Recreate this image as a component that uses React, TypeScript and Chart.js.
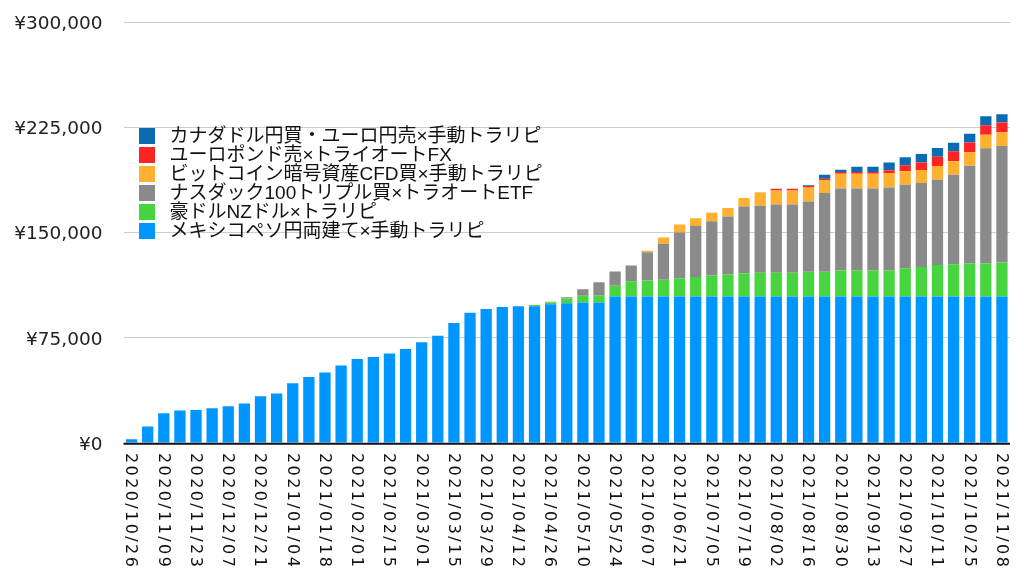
import React, { useEffect, useRef } from "react";
import { Chart, registerables } from "chart.js";

Chart.register(...registerables);

const categories: string[] = [
  "2020/10/26", "2020/11/02", "2020/11/09", "2020/11/16", "2020/11/23", "2020/11/30",
  "2020/12/07", "2020/12/14", "2020/12/21", "2020/12/28",
  "2021/01/04", "2021/01/11", "2021/01/18", "2021/01/25",
  "2021/02/01", "2021/02/08", "2021/02/15", "2021/02/22",
  "2021/03/01", "2021/03/08", "2021/03/15", "2021/03/22", "2021/03/29",
  "2021/04/05", "2021/04/12", "2021/04/19", "2021/04/26",
  "2021/05/03", "2021/05/10", "2021/05/17", "2021/05/24", "2021/05/31",
  "2021/06/07", "2021/06/14", "2021/06/21", "2021/06/28",
  "2021/07/05", "2021/07/12", "2021/07/19", "2021/07/26",
  "2021/08/02", "2021/08/09", "2021/08/16", "2021/08/23", "2021/08/30",
  "2021/09/06", "2021/09/13", "2021/09/20", "2021/09/27",
  "2021/10/04", "2021/10/11", "2021/10/18", "2021/10/25",
  "2021/11/01", "2021/11/08",
];

// メキシコペソ円両建て×手動トラリピ
const mexico: number[] = [
  2700, 11700, 21200, 23100, 23600, 24800, 26200, 28100, 33300, 35200,
  42600, 47100, 50200, 55200, 59800, 61200, 63800, 66900, 71800, 76400,
  85500, 92900, 95500, 96900, 97400, 97400, 98800, 99500, 100200, 100200,
  104400, 104400, 104400, 104400, 104400, 104400, 104400, 104400, 104400, 104400,
  104400, 104400, 104400, 104400, 104400, 104400, 104400, 104400, 104400, 104400,
  104400, 104400, 104400, 104400, 104400,
];

// 豪ドルNZドル×トラリピ
const audnzd: number[] = [
  0, 0, 0, 0, 0, 0, 0, 0, 0, 0,
  0, 0, 0, 0, 0, 0, 0, 0, 0, 0,
  0, 0, 0, 0, 0, 950, 1400, 3400, 4800, 5000,
  7600, 10900, 11400, 12000, 13000, 13900, 15000, 15600, 16500, 17000,
  17000, 17000, 17700, 17700, 18500, 18500, 18500, 18500, 20100, 21100,
  22500, 23000, 23500, 23500, 24200,
];

// ナスダック100トリプル買×トラオートETF
const nasdaq: number[] = [
  0, 0, 0, 0, 0, 0, 0, 0, 0, 0,
  0, 0, 0, 0, 0, 0, 0, 0, 0, 0,
  0, 0, 0, 0, 0, 0, 500, 900, 4500, 9300,
  10200, 11200, 20100, 25500, 32600, 36300, 38700, 41400, 47700, 47600,
  48600, 48600, 50000, 56000, 58500, 58500, 58500, 59200, 59500, 59700,
  60700, 63700, 69700, 82200, 83100,
];

// ビットコイン暗号資産CFD買×手動トラリピ
const bitcoin: number[] = [
  0, 0, 0, 0, 0, 0, 0, 0, 0, 0,
  0, 0, 0, 0, 0, 0, 0, 0, 0, 0,
  0, 0, 0, 0, 0, 0, 0, 0, 0, 0,
  0, 0, 1100, 4600, 5700, 5500, 6000, 6000, 5900, 9600,
  10000, 10000, 10000, 9300, 10500, 10500, 10500, 10300, 9600, 9300,
  9700, 9600, 9500, 9600, 9800,
];

// ユーロポンド売×トライオートFX
const eurgbp: number[] = [
  0, 0, 0, 0, 0, 0, 0, 0, 0, 0,
  0, 0, 0, 0, 0, 0, 0, 0, 0, 0,
  0, 0, 0, 0, 0, 0, 0, 0, 0, 0,
  0, 0, 0, 0, 0, 0, 0, 0, 0, 0,
  1200, 1200, 1000, 900, 1200, 1200, 1200, 1900, 4300, 5400,
  6700, 7200, 7000, 6800, 6800,
];

// カナダドル円買・ユーロ円売×手動トラリピ
const cadeur: number[] = [
  0, 0, 0, 0, 0, 0, 0, 0, 0, 0,
  0, 0, 0, 0, 0, 0, 0, 0, 0, 0,
  0, 0, 0, 0, 0, 0, 0, 0, 0, 0,
  0, 0, 0, 0, 0, 0, 0, 0, 0, 0,
  0, 0, 500, 2900, 1700, 3800, 3800, 5500, 5700, 6100,
  6200, 6100, 6300, 6300, 5900,
];

const seriesLabels: string[] = [
  "メキシコペソ円両建て×手動トラリピ",
  "豪ドルNZドル×トラリピ",
  "ナスダック100トリプル買×トラオートETF",
  "ビットコイン暗号資産CFD買×手動トラリピ",
  "ユーロポンド売×トライオートFX",
  "カナダドル円買・ユーロ円売×手動トラリピ",
];
const seriesColors: string[] = ["#0096ff", "#48d43f", "#8a8a8a", "#ffb030", "#ff2424", "#0a6bb2"];

const yTicks: number[] = [0, 75000, 150000, 225000, 300000];

const xLabelPlugin = {
  id: "xLabels",
  afterDraw(chart: any) {
    const ctx = chart.ctx;
    const xs = chart.scales.x;
    const area = chart.chartArea;
    ctx.save();
    ctx.font = '16px "DejaVu Sans"';
    try { (ctx as any).letterSpacing = "2.4px"; } catch (e) {}
    ctx.fillStyle = "#111111";
    ctx.textAlign = "left";
    ctx.textBaseline = "middle";
    categories.forEach((lab, i) => {
      if (i % 2 !== 0) return;
      const x = xs.getPixelForValue(i);
      ctx.save();
      ctx.translate(x - 1, area.bottom + 10);
      ctx.rotate(Math.PI / 2);
      ctx.fillText(lab, 0, 0);
      ctx.restore();
    });
    ctx.restore();
  },
};

const zeroLinePlugin = {
  id: "zeroLine",
  afterDatasetsDraw(chart: any) {
    const ctx = chart.ctx;
    const area = chart.chartArea;
    const y = chart.scales.y.getPixelForValue(0);
    ctx.save();
    ctx.strokeStyle = "#111111";
    ctx.lineWidth = 2;
    ctx.beginPath();
    ctx.moveTo(area.left, y + 0.8);
    ctx.lineTo(area.right, y + 0.8);
    ctx.stroke();
    ctx.restore();
  },
};

const legendPlugin = {
  id: "customLegend",
  afterDraw(chart: any) {
    const ctx = chart.ctx;
    const area = chart.chartArea;
    const ds = chart.data.datasets;
    ctx.save();
    ctx.font = '19px "Liberation Sans", "Noto Sans CJK JP"';
    ctx.textAlign = "left";
    ctx.textBaseline = "middle";
    for (let k = 0; k < ds.length; k++) {
      const d = ds[ds.length - 1 - k];
      const top = area.top + 106 + k * 19;
      ctx.fillStyle = d.backgroundColor;
      ctx.fillRect(area.left + 15.5, top, 16, 16);
      ctx.fillStyle = "#111111";
      ctx.fillText(d.label, area.left + 46, top + 8.5);
    }
    ctx.restore();
  },
};

export default function App() {
  const canvasRef = useRef<HTMLCanvasElement | null>(null);

  useEffect(() => {
    document.body.style.margin = "0";
    const canvas = canvasRef.current;
    if (!canvas) return;
    const values = [mexico, audnzd, nasdaq, bitcoin, eurgbp, cadeur];
    const chart = new Chart(canvas, {
      type: "bar",
      data: {
        labels: categories,
        datasets: values.map((v, i) => ({
          label: seriesLabels[i],
          data: v,
          backgroundColor: seriesColors[i],
          borderWidth: 0,
          barPercentage: 0.7,
          categoryPercentage: 1.0,
        })),
      },
      options: {
        animation: false,
        responsive: false,
        maintainAspectRatio: false,
        layout: { padding: { top: 22, right: 14, bottom: 0, left: 0 } },
        plugins: {
          legend: { display: false },
          tooltip: { enabled: false },
        },
        scales: {
          x: {
            stacked: true,
            grid: { display: false },
            border: { display: false },
            ticks: { display: false },
            afterFit: (scale: any) => {
              scale.height = 139;
              scale.paddingLeft = 0;
              scale.paddingRight = 0;
            },
          },
          y: {
            stacked: true,
            min: 0,
            max: 300000,
            afterBuildTicks: (scale: any) => {
              scale.ticks = yTicks.map((v) => ({ value: v }));
            },
            grid: {
              drawTicks: false,
              color: (c: any) => (c.tick && c.tick.value === 0 ? "rgba(0,0,0,0)" : "#cccccc"),
              lineWidth: 1,
            },
            border: { display: false },
            ticks: {
              padding: 21,
              labelOffset: 2,
              color: "#222222",
              font: { family: '"DejaVu Sans"', size: 18.5 },
              callback: (v: any) => "¥" + Number(v).toLocaleString("en-US"),
            },
            afterFit: (scale: any) => {
              scale.width = 123.5;
              scale.paddingTop = 0;
              scale.paddingBottom = 0;
            },
          },
        },
      },
      plugins: [zeroLinePlugin, xLabelPlugin, legendPlugin],
    });
    return () => chart.destroy();
  }, []);

  return (
    <div style={{ width: 1024, height: 582, position: "relative" }}>
      <canvas ref={canvasRef} width={1024} height={582} style={{ width: 1024, height: 582, display: "block" }} />
    </div>
  );
}
